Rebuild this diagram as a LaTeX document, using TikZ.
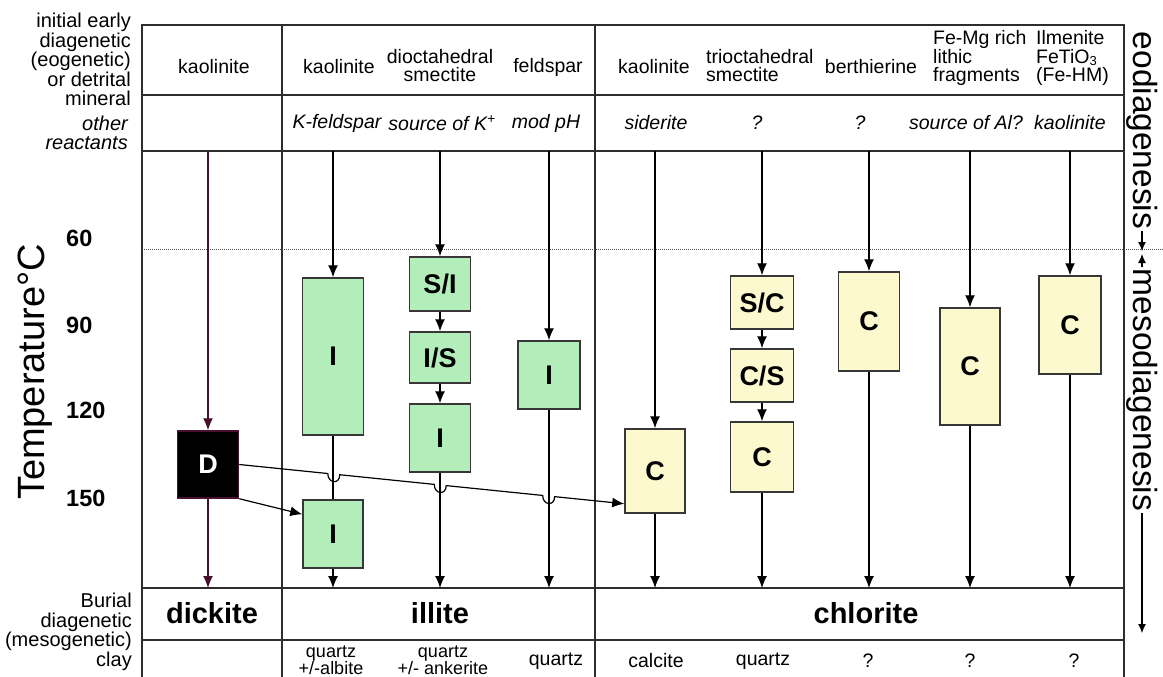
\documentclass[tikz,border=0pt]{standalone}
\usepackage{fontspec}
\setmainfont{Liberation Sans}
\usetikzlibrary{arrows.meta,calc}

\definecolor{frameC}{RGB}{45,45,45}
\definecolor{boxC}{RGB}{55,55,55}
\definecolor{greenC}{RGB}{178,237,186}
\definecolor{yellowC}{RGB}{252,249,207}
\definecolor{dickC}{RGB}{72,18,46}

\newcommand{\fsz}[2]{\fontsize{#1}{#2}\selectfont}

\begin{document}
\begin{tikzpicture}[x=1pt,y=-1pt,
  gridline/.style={draw=frameC, line width=1.5pt},
  arr/.style={-{Latex[length=12pt,width=10pt]}, line width=1.2pt, draw=black},
  darr/.style={arr, draw=dickC},
  plainline/.style={line width=1.2pt, draw=black},
  sarr/.style={-{Latex[length=9pt,width=8pt]}, line width=1.1pt, draw=black},
  mbox/.style={draw=boxC, line width=1.5pt, inner sep=0pt, font=\fsz{27}{27}\bfseries},
  gbox/.style={mbox, fill=greenC},
  ybox/.style={mbox, fill=yellowC},
  hdr/.style={font=\fsz{19.5}{18}, align=center, inner sep=0pt},
  hdrl/.style={hdr, align=left, anchor=west},
  rct/.style={font=\fsz{19.5}{18}\itshape, inner sep=0pt},
  side/.style={font=\fsz{20}{19.5}, align=right, anchor=east, inner sep=0pt},
  big/.style={font=\fsz{29}{29}\bfseries, inner sep=0pt},
  tnum/.style={font=\fsz{23.5}{24}\bfseries, anchor=west, inner sep=0pt},
  small/.style={font=\fsz{18}{17}, align=center, inner sep=0pt},
  foot/.style={font=\fsz{19.5}{18}, inner sep=0pt}
]
\useasboundingbox (0,0) rectangle (1163,677);
\fill[white] (0,0) rectangle (1163,677);

% ---- table frame ----
\draw[gridline] (142,677) -- (142,25) -- (1124,25) -- (1124,677);
\draw[gridline] (282,25) -- (282,677);
\draw[gridline] (595,25) -- (595,677);
\draw[gridline] (142,95) -- (1124,95);
\draw[gridline] (142,151) -- (1124,151);
\draw[gridline] (142,588) -- (1124,588);
\draw[gridline] (142,640) -- (1124,640);

% 60 degree boundary
\draw[draw=black!70, line width=0.9pt, dash pattern=on 1pt off 1pt] (142,249) -- (1163,249);

% ---- row labels ----
\node[side] (lab1) at (131,59.5) {initial early\\diagenetic\\(eogenetic)\\or detrital\\mineral};
\node[side, font=\fsz{20}{19}\itshape] (lab2) at (128,132.5) {other\\reactants};
\node[side] (lab3) at (132,632) {Burial\\diagenetic\\(mesogenetic)\\clay};

\node[rotate=90, font=\fsz{38}{38}, inner sep=0pt] (temp) at (35,372) {Temperature°C};
\node[tnum] (t60) at (66,238) {60};
\node[tnum] (t90) at (66,325) {90};
\node[tnum] (t120) at (66,410) {120};
\node[tnum] (t150) at (66,498) {150};

% ---- initial minerals ----
\node[hdr] (m0) at (214,67) {kaolinite};
\node[hdr] (m1) at (339,67) {kaolinite};
\node[hdr] (m2) at (440,66) {dioctahedral\\smectite};
\node[hdr] (m3) at (548,67) {feldspar};
\node[hdr] (m4) at (654,67) {kaolinite};
\node[hdrl] (m5) at (706,66) {trioctahedral\\smectite};
\node[hdr] (m6) at (871,67) {berthierine};
\node[hdrl, font=\fsz{19.5}{18.5}] (m7) at (933,58) {Fe-Mg rich\\lithic\\fragments};
\node[hdrl, font=\fsz{19.5}{18.5}] (m8) at (1036,58) {Ilmenite\\FeTiO\raisebox{-2pt}{\fsz{13}{13}3}\\(Fe-HM)};

% ---- other reactants ----
\node[rct] (r1) at (337,123) {K-feldspar};
\node[rct] (r2) at (442,123) {source of K\textsuperscript{+}};
\node[rct] (r3) at (546,123) {mod pH};
\node[rct] (r4) at (656,123) {siderite};
\node[rct] (r5) at (757,123) {?};
\node[rct] (r6) at (860,123) {?};
\node[rct] (r7) at (966,123) {source of Al?};
\node[rct] (r8) at (1070,123) {kaolinite};

% ---- reaction boxes ----
\node[mbox, fill=black, draw=dickC, text=white, minimum width=61pt, minimum height=67pt] (D) at (208,464.5) {D};

\node[gbox, minimum width=61pt, minimum height=157pt] (I1a) at (333,356.5) {I};
\node[gbox, minimum width=60pt, minimum height=68pt] (I1b) at (333,534) {I};
\node[gbox, minimum width=61pt, minimum height=54pt] (SI) at (440,284) {S/I};
\node[gbox, minimum width=61pt, minimum height=51pt] (IS) at (440,357.5) {I/S};
\node[gbox, minimum width=61pt, minimum height=68pt] (I2) at (440,438) {I};
\node[gbox, minimum width=62pt, minimum height=68pt] (I3) at (549,375) {I};

\node[ybox, minimum width=60pt, minimum height=84pt] (C1) at (655,471) {C};
\node[ybox, minimum width=63pt, minimum height=53pt] (SC) at (762,302.5) {S/C};
\node[ybox, minimum width=63pt, minimum height=53pt] (CS) at (762,375.5) {C/S};
\node[ybox, minimum width=63pt, minimum height=70pt] (C2) at (762,457) {C};
\node[ybox, minimum width=61pt, minimum height=99pt] (C3) at (869,321.5) {C};
\node[ybox, minimum width=60pt, minimum height=117pt] (C4) at (970,366.5) {C};
\node[ybox, minimum width=62pt, minimum height=98pt] (C5) at (1070,325) {C};

% ---- column start / end points ----
\foreach \n/\x in {D/208,1/333,2/440,3/549,4/655,5/762,6/869,7/970,8/1070}{
  \coordinate (top\n) at (\x,151);
  \coordinate (bot\n) at (\x,588);
}

% ---- vertical reaction paths ----
\draw[darr] (topD) -- (D.north);
\draw[darr] (D.south) -- (botD);

\draw[arr] (top1) -- (I1a.north);
\draw[plainline] (I1a.south) -- (I1b.north);
\draw[arr] (I1b.south) -- (bot1);

\draw[arr] (top2) -- (SI.north);
\draw[arr] (SI.south) -- (IS.north);
\draw[arr] (IS.south) -- (I2.north);
\draw[arr] (I2.south) -- (bot2);

\draw[arr] (top3) -- (I3.north);
\draw[arr] (I3.south) -- (bot3);

\draw[arr] (top4) -- (C1.north);
\draw[arr] (C1.south) -- (bot4);

\draw[arr] (top5) -- (SC.north);
\draw[arr] (SC.south) -- (CS.north);
\draw[arr] (CS.south) -- (C2.north);
\draw[arr] (C2.south) -- (bot5);

\draw[arr] (top6) -- (C3.north);
\draw[arr] (C3.south) -- (bot6);

\draw[arr] (top7) -- (C4.north);
\draw[arr] (C4.south) -- (bot7);

\draw[arr] (top8) -- (C5.north);
\draw[arr] (C5.south) -- (bot8);

% ---- dickite conversions (hopping over the illite paths) ----
\coordinate (dS) at (D.east);
\coordinate (cE) at ($(C1.south west)+(0,-10)$);
\draw[arr] (dS) -- ($(dS)!0.2300!(cE)$)
  .. controls +(0,10) and +(0,10) .. ($(dS)!0.2610!(cE)$)
  -- ($(dS)!0.5065!(cE)$)
  .. controls +(0,10) and +(0,10) .. ($(dS)!0.5375!(cE)$)
  -- ($(dS)!0.7881!(cE)$)
  .. controls +(0,10) and +(0,10) .. ($(dS)!0.8191!(cE)$)
  -- (cE);
\draw[arr] (D.south east) -- ($(I1b.north west)+(0,15)$);

% ---- products ----
\node[big] (pD) at (212,613) {dickite};
\node[big] (pI) at (440,613) {illite};
\node[big] (pC) at (866,613) {chlorite};

\node[small] (q1) at (331,660) {quartz\\+/-albite};
\node[small] (q2) at (443,660) {quartz\\+/- ankerite};
\node[foot] (q3) at (556,661) {quartz};
\node[foot] (q4) at (656,661) {calcite};
\node[foot] (q5) at (763,661) {quartz};
\node[foot] (q6) at (868,661) {?};
\node[foot] (q7) at (970,661) {?};
\node[foot] (q8) at (1074,661) {?};

% ---- stage labels ----
\node[rotate=-90, font=\fsz{33.5}{34}, inner sep=0pt] (eo) at (1142,130.5) {eodiagenesis};
\node[rotate=-90, font=\fsz{33.5}{34}, inner sep=0pt] (meso) at (1142,390) {mesodiagenesis};
\coordinate (eoEnd) at (1142,251);
\coordinate (mesoTop) at (1142,254);
\coordinate (mesoEnd) at (1142,633);
\draw[sarr] ($(eo.east)+(0,2)$) -- (eoEnd);
\draw[sarr] ($(meso.west)+(0,-2)$) -- (mesoTop);
\draw[sarr] ($(meso.east)+(0,2)$) -- (mesoEnd);
\end{tikzpicture}
\end{document}
